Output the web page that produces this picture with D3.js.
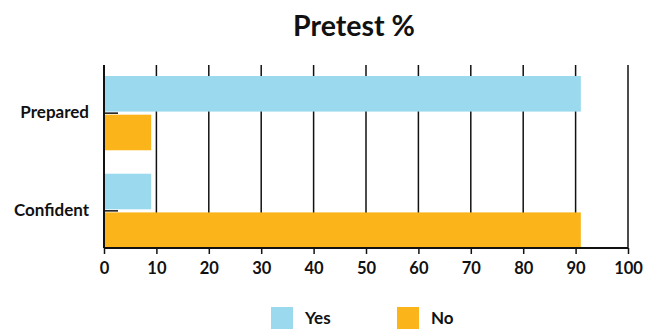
<!DOCTYPE html>
<html>
<head>
<meta charset="utf-8">
<script src="https://cdn.jsdelivr.net/npm/d3@7"></script>
<style>
  body { margin: 0; background: #fff; }
  text { font-family: "Lato", "Open Sans", sans-serif; font-weight: bold; fill: #111; }
</style>
</head>
<body>
<svg width="652" height="329"></svg>
<script>
const categories = ["Prepared", "Confident"];
const series = ["Yes", "No"];
const yesValues = [91, 9];
const noValues = [9, 91];
const xTicks = [0, 10, 20, 30, 40, 50, 60, 70, 80, 90, 100];
const colors = ["#9bdaee", "#fbb51b"];

const plotLeft = 104, plotRight = 628, plotTop = 65, plotBottom = 248;

const svg = d3.select("svg");

const x = d3.scaleLinear().domain([0, 100]).range([plotLeft, plotRight]);
const y = d3.scaleBand().domain(categories).range([64, 260]).paddingInner(0.24).paddingOuter(0.123);
const ySub = d3.scaleBand().domain(series).range([0, y.bandwidth()]).paddingInner(0.08);
const color = d3.scaleOrdinal().domain(series).range(colors);

const rows = categories.map((c, i) => ({ cat: c, values: [yesValues[i], noValues[i]] }));

// vertical grid lines
svg.append("g")
    .selectAll("line")
    .data(xTicks.slice(1))
    .enter()
    .append("line")
    .attr("x1", d => x(d))
    .attr("x2", d => x(d))
    .attr("y1", plotTop)
    .attr("y2", plotBottom)
    .attr("stroke", "#111")
    .attr("stroke-width", 1.5);

// small category ticks on the left axis
svg.append("g")
    .selectAll("line")
    .data(categories)
    .enter()
    .append("line")
    .attr("x1", plotLeft)
    .attr("x2", plotLeft + 14)
    .attr("y1", d => y(d) + y.bandwidth() / 2)
    .attr("y2", d => y(d) + y.bandwidth() / 2)
    .attr("stroke", "#111")
    .attr("stroke-width", 1.5);

// bars
const group = svg.append("g")
    .selectAll("g")
    .data(rows)
    .enter()
    .append("g")
    .attr("transform", d => `translate(0,${y(d.cat)})`);

group.selectAll("rect")
    .data(d => d.values.map((v, i) => ({ key: series[i], value: v })))
    .enter()
    .append("rect")
    .attr("x", x(0) + 1)
    .attr("y", d => ySub(d.key))
    .attr("width", d => x(d.value) - x(0) - 1)
    .attr("height", ySub.bandwidth())
    .attr("fill", d => color(d.key));

// left axis line
svg.append("line")
    .attr("x1", plotLeft).attr("x2", plotLeft)
    .attr("y1", plotTop).attr("y2", plotBottom)
    .attr("stroke", "#111").attr("stroke-width", 2);

// bottom axis
const xAxis = svg.append("g")
    .attr("transform", `translate(0,${plotBottom})`)
    .call(d3.axisBottom(x).tickValues(xTicks).tickSize(6).tickPadding(8));
xAxis.select(".domain").attr("stroke", "#111").attr("stroke-width", 2).attr("d", `M${plotLeft},0H${plotRight}`);
xAxis.selectAll(".tick line").attr("stroke", "#111").attr("stroke-width", 1.5);
xAxis.selectAll(".tick text").attr("font-size", 16.5).style("font-family", "Lato, sans-serif").style("font-weight", "bold").attr("fill", "#111");

// category labels
svg.append("g")
    .selectAll("text")
    .data(categories)
    .enter()
    .append("text")
    .attr("x", 89)
    .attr("y", d => y(d) + y.bandwidth() / 2)
    .attr("dy", "0.3em")
    .attr("text-anchor", "end")
    .attr("font-size", 17)
    .text(d => d);

// title
svg.append("text")
    .attr("x", 354)
    .attr("y", 36)
    .attr("text-anchor", "middle")
    .attr("font-size", 28.5)
    .text("Pretest %");

// legend
const legendX = [271, 397];
const legend = svg.append("g")
    .selectAll("g")
    .data(series)
    .enter()
    .append("g")
    .attr("transform", (d, i) => `translate(${legendX[i]},307)`);

legend.append("rect")
    .attr("width", 22)
    .attr("height", 22)
    .attr("fill", d => color(d));

legend.append("text")
    .attr("x", 34)
    .attr("y", 17)
    .attr("font-size", 17)
    .text(d => d);
</script>
</body>
</html>
